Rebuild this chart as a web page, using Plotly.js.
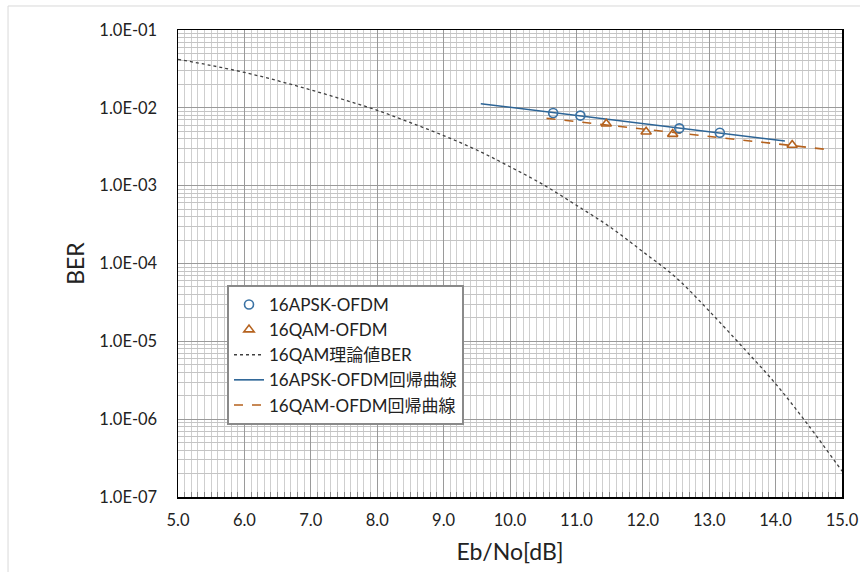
<!DOCTYPE html>
<html><head><meta charset="utf-8">
<script src="https://cdn.plot.ly/plotly-3.0.1.min.js"></script>
<style>body{margin:0;background:#fff}#c{width:860px;height:572px}</style>
</head><body><div id="c"></div>
<script>
// Theoretical 16QAM BER curve
const theoryX = [5.0,5.5,6.0,6.5,7.0,7.5,8.0,8.5,9.0,9.5,10.0,10.5,11.0,11.5,12.0,12.5,13.0,13.5,14.0,14.5,15.0];
const theoryY = [4.2e-2,3.5e-2,2.85e-2,2.23e-2,1.7e-2,1.27e-2,9.3e-3,6.45e-3,4.4e-3,2.87e-3,1.75e-3,1.03e-3,5.6e-4,2.97e-4,1.42e-4,6.6e-5,2.45e-5,8.5e-6,2.85e-6,8.2e-7,2.15e-7];
// Measured points
const apskX = [10.65,11.06,12.55,13.16];
const apskY = [8.6e-3,7.95e-3,5.45e-3,4.78e-3];
const qamX = [11.45,12.05,12.45,14.25];
const qamY = [6.25e-3,4.93e-3,4.6e-3,3.33e-3];
// Regression lines (end points)
const apskFitX = [9.56,14.14];
const apskFitY = [1.13e-2,3.74e-3];
const qamFitX = [10.55,14.77];
const qamFitY = [7.33e-3,2.92e-3];
// Tick labels
const yTickVals = [1e-7,1e-6,1e-5,1e-4,1e-3,1e-2,1e-1];
const yTickText = ["1.0E-07","1.0E-06","1.0E-05","1.0E-04","1.0E-03","1.0E-02","1.0E-01"];

const FONT = "Lato, 'Noto Sans CJK JP', sans-serif";
const traces = [
  {x: theoryX, y: theoryY, mode:'lines', name:'16QAM理論値BER', legendrank:3,
   line:{color:'#404040', width:1.3, dash:'dot', shape:'spline'}},
  {x: apskFitX, y: apskFitY, mode:'lines', name:'16APSK-OFDM回帰曲線', legendrank:4,
   line:{color:'#2c6496', width:1.6}},
  {x: qamFitX, y: qamFitY, mode:'lines', name:'16QAM-OFDM回帰曲線', legendrank:5,
   line:{color:'#b5621e', width:1.6, dash:'dash'}},
  {x: apskX, y: apskY, mode:'markers', name:'16APSK-OFDM', legendrank:1,
   marker:{symbol:'circle-open', size:9, color:'#3a72a4', line:{width:1.6}}},
  {x: qamX, y: qamY, mode:'markers', name:'16QAM-OFDM', legendrank:2,
   marker:{symbol:'triangle-up-open', size:9, color:'#b5621e', line:{width:1.6}}}
];

const layout = {
  width:860, height:572,
  margin:{l:178, r:18, t:30, b:75},
  paper_bgcolor:'#fff', plot_bgcolor:'#fff',
  font:{family:FONT, color:'#222', size:16},
  showlegend:true,
  legend:{x:0.0738, y:0.454, xanchor:'left', yanchor:'top', bgcolor:'#fff',
    bordercolor:'#8a8a8a', borderwidth:2, font:{family:FONT, size:17, color:'#222'},
    tracegroupgap:0, itemwidth:30},
  xaxis:{range:[5,15], dtick:1, tick0:5, tickformat:'.1f', showgrid:true, gridcolor:'#9a9a9a', gridwidth:1,
    zeroline:false, showline:true, linecolor:'#000', linewidth:1.5, mirror:true, ticks:'',
    ticklabelstandoff:8,
    tickfont:{family:FONT, size:16.5, color:'#222'},
    minor:{dtick:0.1, showgrid:true, gridcolor:'#cfcfcf', gridwidth:1, ticks:'inside', ticklen:5, tickcolor:'#888'},
    title:{text:'Eb/No[dB]', font:{family:FONT, size:23, color:'#222'}, standoff:14}},
  yaxis:{type:'log', range:[-7,-1], tickvals:yTickVals, ticktext:yTickText, showgrid:true, gridcolor:'#9a9a9a',
    zeroline:false, showline:true, linecolor:'#000', linewidth:1.5, mirror:true, ticks:'',
    ticklabelstandoff:16,
    tickfont:{family:FONT, size:16.5, color:'#222'},
    minor:{dtick:'D1', showgrid:true, gridcolor:'#c4c4c4', gridwidth:1},
    title:{text:'BER', font:{family:FONT, size:23, color:'#222'}, standoff:8}},
  shapes:[{type:'rect', xref:'paper', yref:'paper', x0:-0.256, x1:1.05, y0:-0.2, y1:1.0514,
    line:{color:'#d9d9d9', width:1}, fillcolor:'rgba(0,0,0,0)', layer:'below'}]
};
Plotly.newPlot('c', traces, layout, {displayModeBar:false, staticPlot:true});
</script></body></html>
